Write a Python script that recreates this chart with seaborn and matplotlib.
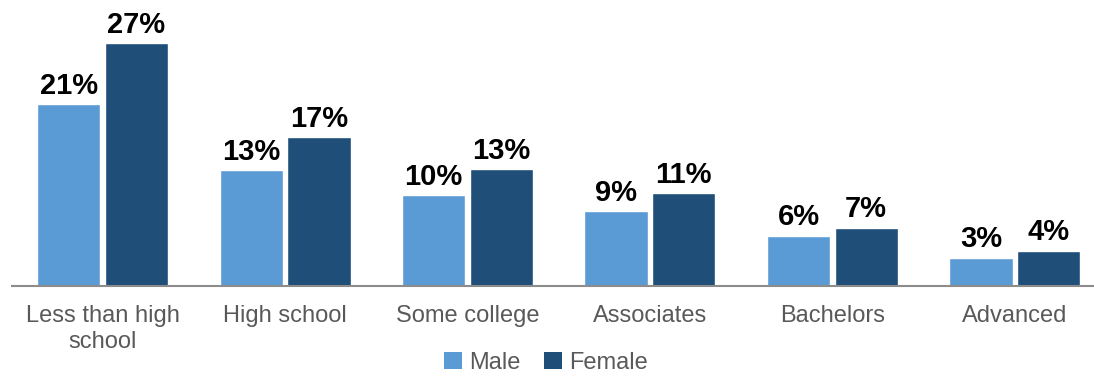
import matplotlib
matplotlib.use("Agg")
import matplotlib.pyplot as plt
import seaborn as sns
import pandas as pd
from matplotlib.patches import Patch

categories = ["Less than high\nschool", "High school", "Some college", "Associates", "Bachelors", "Advanced"]
male_values = [20.5, 13.1, 10.3, 8.5, 5.7, 3.2]
female_values = [27.4, 16.8, 13.2, 10.5, 6.6, 4.0]
male_labels = ["21%", "13%", "10%", "9%", "6%", "3%"]
female_labels = ["27%", "17%", "13%", "11%", "7%", "4%"]
series = ["Male", "Female"]
colors = {"Male": "#5B9BD5", "Female": "#1F4E79"}

df = pd.DataFrame({
    "Education": categories * 2,
    "Sex": ["Male"] * len(categories) + ["Female"] * len(categories),
    "Value": male_values + female_values,
})

sns.set_style("white")
plt.rcParams["font.family"] = ["Liberation Sans", "DejaVu Sans"]

fig = plt.figure(figsize=(10.94, 3.77), dpi=100)
ax = fig.add_axes([12 / 1094, 91 / 377, 1082 / 1094, 286 / 377])

sns.barplot(data=df, x="Education", y="Value", hue="Sex", order=categories,
            hue_order=series, palette=colors, width=0.74, gap=0.06,
            saturation=1, ax=ax, legend=False, errorbar=None)

for cont, labs in zip(ax.containers, [male_labels, female_labels]):
    ax.bar_label(cont, labels=labs, padding=3, fontsize=21, fontweight="bold", color="black")

ax.set_xlim(-0.496, 5.433)
ax.set_ylim(0, 32.3)
ax.set_xlabel("")
ax.set_ylabel("")
ax.set_yticks([])
for s in ["top", "right", "left"]:
    ax.spines[s].set_visible(False)
ax.spines["bottom"].set_color("#8C8C8C")
ax.spines["bottom"].set_linewidth(1.5)
ax.tick_params(axis="x", length=0, pad=14, labelsize=17, labelcolor="#595959")

handles = [Patch(facecolor=colors[s], edgecolor="none", label=s) for s in series]
leg = fig.legend(handles=handles, loc="center", bbox_to_anchor=(546 / 1094, 14 / 377),
                 ncol=2, frameon=False, fontsize=17, handlelength=0.75, handleheight=0.75,
                 handletextpad=0.3, columnspacing=1.0, labelcolor="#595959", borderpad=0)

fig.savefig("out.png", dpi=100)
